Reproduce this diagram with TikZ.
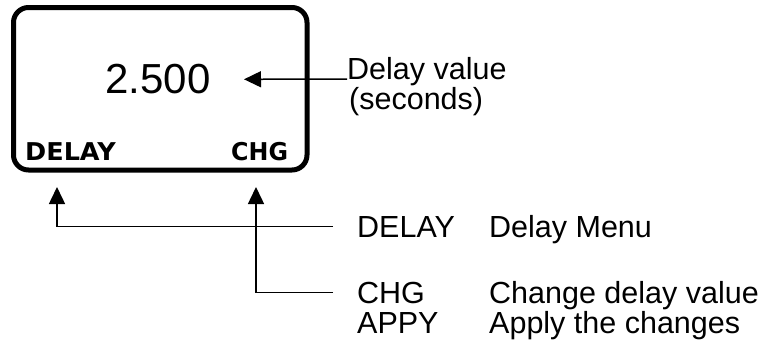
\documentclass[tikz,border=0pt]{standalone}
\usepackage{fontspec}
\setmainfont{Liberation Sans}
\newfontfamily\lcdface{DejaVu Sans}
\usepackage{graphicx}
\usepackage{tikz}
\usetikzlibrary{arrows.meta, positioning}
\tikzset{
  lcdkey/.style={anchor=base west, inner sep=0pt, font=\fontsize{24.5}{26}\selectfont\lcdface\bfseries},
  plaintext/.style={anchor=base west, inner sep=0pt, font=\fontsize{30.5}{30}\selectfont},
  pointer/.style={line width=1.5pt, -{Triangle[length=17pt,width=16pt]}}
}

\begin{document}
\begin{tikzpicture}[x=1pt, y=-1pt]
            \useasboundingbox (0,0) rectangle (762,341);
            % display
            \draw[line width=5pt, rounded corners=15pt] (13.5,7.5) rectangle (307,170) ;
            \node[anchor=center, inner sep=0pt, font=\fontsize{42}{46}\selectfont] (value) at (158,79) {2.500};
            \node[lcdkey] (lcddelay) at (25,160) {\scalebox{1.04}[1]{DELAY}};
            \node[lcdkey] (lcdchg) at (231,160) {\scalebox{0.97}[1]{CHG}};
            % value label
            \node[plaintext] (valuelbl) at (347,79) {Delay value};
            \node[plaintext] (secondslbl) at (349,109) {(seconds)};
            \coordinate (valuetip) at (244,79.3);
            \draw[pointer] (valuelbl.base west) -- (valuetip);
            % key legend
            \node[plaintext] (keydelay) at (357,237) {DELAY};
            \node[plaintext] (descdelay) at (489,237) {Delay Menu};
            \node[plaintext] (keychg) at (357,303) {CHG};
            \node[plaintext] (descchg) at (489,303) {Change delay value};
            \node[plaintext] (keyappy) at (357,333) {APPY};
            \node[plaintext] (descappy) at (489,333) {Apply the changes};
            \coordinate (delaytip) at (57,187);
            \coordinate (chgtip) at (256,187);
            \draw[pointer, shorten <=24pt] (keydelay.west) -| (delaytip);
            \draw[pointer, shorten <=24pt] (keychg.west) -| (chgtip);
        \end{tikzpicture}
\end{document}
